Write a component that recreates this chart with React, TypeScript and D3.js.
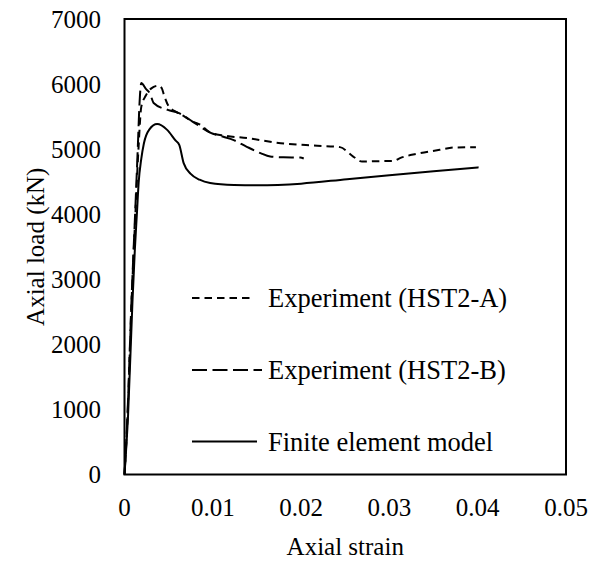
import React from "react";
import * as d3 from "d3";

// Axial load–strain curves
const feStrain = [0, 0.0004, 0.0009, 0.00117, 0.00143, 0.0016, 0.0019, 0.0022, 0.0028, 0.0037, 0.0048, 0.0058, 0.0062, 0.0067, 0.0075, 0.0085, 0.0097, 0.0124, 0.015, 0.02, 0.0252, 0.03, 0.035, 0.0401];
const feLoad = [0, 900, 2650, 3450, 4070, 4480, 4850, 5090, 5300, 5385, 5300, 5130, 5066, 4785, 4620, 4530, 4480, 4450, 4445, 4470, 4539, 4600, 4660, 4720];

const aStrain = [0, 0.0003, 0.0008, 0.0012, 0.0016, 0.0019, 0.0024, 0.003, 0.0038, 0.0042, 0.0045, 0.005, 0.0059, 0.0068, 0.0077, 0.0086, 0.0097, 0.0112, 0.0139, 0.0177, 0.0214, 0.0244, 0.0259, 0.0269, 0.0287, 0.0305, 0.0312, 0.0331, 0.0357, 0.0373, 0.0398];
const aLoad = [0, 750, 2650, 3900, 5050, 5650, 5820, 5930, 5975, 5940, 5820, 5660, 5570, 5500, 5424, 5373, 5255, 5210, 5169, 5092, 5055, 5031, 4886, 4810, 4815, 4820, 4862, 4928, 4989, 5025, 5031];

const bStrain = [0, 0.0003, 0.0008, 0.0012, 0.0015, 0.0017, 0.0019, 0.0024, 0.0029, 0.0033, 0.0049, 0.0061, 0.0077, 0.0097, 0.0112, 0.0123, 0.0138, 0.0154, 0.0165, 0.018, 0.0199, 0.0203];
const bLoad = [0, 800, 2700, 4000, 5000, 5700, 6015, 5930, 5850, 5710, 5603, 5557, 5424, 5255, 5190, 5143, 5040, 4939, 4886, 4875, 4871, 4856];

const xTicks = [0, 0.01, 0.02, 0.03, 0.04, 0.05];
const yTicks = [0, 1000, 2000, 3000, 4000, 5000, 6000, 7000];

const seriesNames = ["Experiment (HST2-A)", "Experiment (HST2-B)", "Finite element model"];

const W = 600;
const H = 563;
const left = 124.5;
const right = 566;
const top = 19;
const bottom = 474.5;
const FONT = "'Liberation Serif', 'Times New Roman', serif";

export default function App() {
  const x = d3.scaleLinear().domain([0, 0.05]).range([left, right]);
  const y = d3.scaleLinear().domain([0, 7000]).range([bottom, top]);

  const line = d3
    .line<[number, number]>()
    .x((d) => x(d[0]))
    .y((d) => y(d[1]))
    .curve(d3.curveMonotoneX);

  const zip = (xs: number[], ys: number[]) => xs.map((v, i) => [v, ys[i]] as [number, number]);

  const series = [
    { name: seriesNames[0], data: zip(aStrain, aLoad), dash: "7.5 5", legendEnd: 252 },
    { name: seriesNames[1], data: zip(bStrain, bLoad), dash: "15 5.5", legendEnd: 262 },
    { name: seriesNames[2], data: zip(feStrain, feLoad), dash: undefined as string | undefined, legendEnd: 257 },
  ];
  const legendY = [298, 370, 441.5];

  return (
    <svg
      width={W}
      height={H}
      style={{ position: "absolute", left: 0, top: 0, background: "#fff" }}
      fontFamily={FONT}
    >
      <rect x={0} y={0} width={W} height={H} fill="#fff" />

      {series.map((s) => (
        <path
          key={s.name}
          d={line(s.data) || ""}
          fill="none"
          stroke="#000"
          strokeWidth={2}
          strokeDasharray={s.dash}
        />
      ))}

      {/* plot frame */}
      <rect
        x={left}
        y={top}
        width={right - left}
        height={bottom - top}
        fill="none"
        stroke="#000"
        strokeWidth={2}
      />

      {yTicks.map((t) => (
        <text key={t} x={101} y={y(t)} textAnchor="end" dominantBaseline="central" fontSize={25}>
          {t}
        </text>
      ))}
      {xTicks.map((t) => (
        <text key={t} x={x(t)} y={507} textAnchor="middle" dominantBaseline="central" fontSize={25}>
          {t === 0 ? "0" : d3.format(".2f")(t)}
        </text>
      ))}

      <text x={(left + right) / 2} y={546} textAnchor="middle" dominantBaseline="central" fontSize={25}>
        Axial strain
      </text>
      <text
        transform={`translate(35, ${(top + bottom) / 2}) rotate(-90)`}
        textAnchor="middle"
        dominantBaseline="central"
        fontSize={25}
      >
        Axial load (kN)
      </text>

      {series.map((s, i) => (
        <g key={s.name}>
          <line
            x1={192}
            x2={s.legendEnd}
            y1={legendY[i]}
            y2={legendY[i]}
            stroke="#000"
            strokeWidth={2}
            strokeDasharray={s.dash}
          />
          <text x={268} y={legendY[i]} dominantBaseline="central" fontSize={26.5}>
            {s.name}
          </text>
        </g>
      ))}
    </svg>
  );
}
